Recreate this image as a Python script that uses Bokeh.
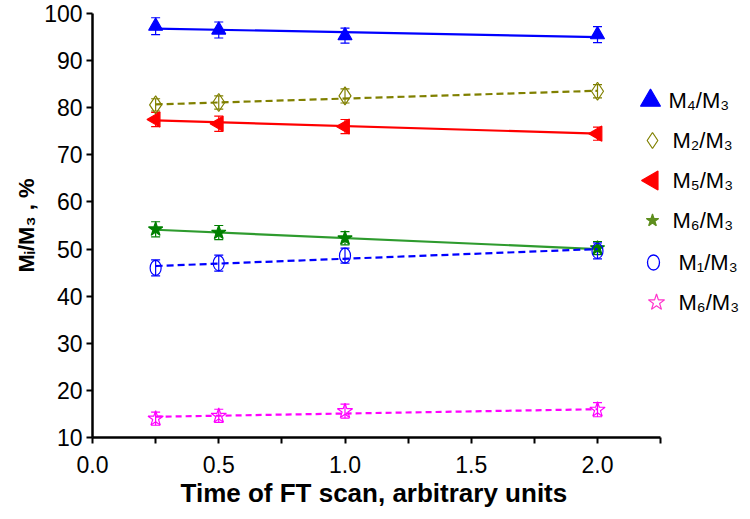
import numpy as np
from bokeh.plotting import figure
from bokeh.models import (ColumnDataSource, Whisker, TeeHead, Title,
                          FixedTicker, NumeralTickFormatter)
from bokeh.core.properties import value
from bokeh.embed import file_html
from bokeh.resources import INLINE

# ---- data ----
x = [0.25, 0.5, 1.0, 2.0]

m4_m3 = [97.3, 96.5, 95.3, 95.5]
m2_m3 = [80.6, 81.1, 82.5, 83.5]
m5_m3 = [77.5, 76.6, 76.0, 74.5]
m6_m3_green = [54.2, 53.5, 52.3, 50.2]
m1_m3 = [46.0, 47.0, 48.6, 49.6]
m6_m3_pink = [14.0, 14.6, 15.6, 15.9]

err_m4 = [1.8, 1.7, 1.6, 1.7]
err_m2 = [1.3, 1.4, 1.5, 1.4]
err_m5 = [1.5, 1.6, 1.5, 1.4]
err_m6g = [1.6, 1.5, 1.4, 1.4]
err_m1 = [1.7, 1.7, 1.6, 1.7]
err_m6p = [1.4, 1.4, 1.5, 1.5]

# trendline end values (at first and last x)
trend_x = [0.25, 2.0]
trend_m4 = [96.8, 95.0]
trend_m2 = [80.7, 83.6]
trend_m5 = [77.3, 74.5]
trend_m6g = [54.1, 50.0]
trend_m1 = [46.4, 50.0]
trend_m6p = [14.4, 16.0]

labels = ["M\u2084/M\u2083", "M\u2082/M\u2083", "M\u2085/M\u2083",
          "M\u2086/M\u2083", "M\u2081/M\u2083", "M\u2086/M\u2083"]

x_ticks = [0.0, 0.5, 1.0, 1.5, 2.0]
x_minor = [0.25, 0.75, 1.25, 1.75, 2.25]
y_ticks = [10, 20, 30, 40, 50, 60, 70, 80, 90, 100]

FONT = "Liberation Sans"

W, H = 749, 518
LEFT, TOP, BOTTOM = 92, 13, 81
PX_PER_X = 252.5
x_end = (W - LEFT) / PX_PER_X

p = figure(width=W, height=H, output_backend="svg", toolbar_location=None,
           x_range=(0, x_end), y_range=(10, 100),
           min_border_left=LEFT, min_border_top=TOP, min_border_bottom=BOTTOM,
           min_border_right=0)
p.outline_line_color = None
p.grid.grid_line_color = None
p.background_fill_color = "white"
p.border_fill_color = "white"

# axes
p.xaxis.bounds = (0, 2.25)
p.xaxis.ticker = FixedTicker(ticks=x_ticks, minor_ticks=x_minor)
p.xaxis.formatter = NumeralTickFormatter(format="0.0")
p.yaxis.ticker = FixedTicker(ticks=y_ticks)
for ax in (p.xaxis[0], p.yaxis[0]):
    ax.axis_line_width = 2.5
    ax.axis_line_color = "black"
    ax.major_tick_line_width = 2
    ax.major_tick_line_color = "black"
    ax.major_tick_out = 6
    ax.major_tick_in = 0
    ax.minor_tick_line_width = 2
    ax.minor_tick_line_color = "black"
    ax.minor_tick_out = 6
    ax.minor_tick_in = 0
    ax.major_label_text_font = FONT
    ax.major_label_text_font_size = "23px"
    ax.major_label_text_color = "black"
    ax.axis_label_text_font = FONT
    ax.axis_label_text_font_style = "bold"
    ax.axis_label_text_font_size = "22px"
    ax.axis_label_text_color = "black"
p.yaxis.minor_tick_line_color = None
p.yaxis.axis_label = "M\u1d62/M\u2083 , %"
p.yaxis.major_label_standoff = 4
p.yaxis.axis_label_standoff = 2
p.xaxis.major_label_standoff = 12

# x-axis title, centred under the drawn axis (0 .. 2.25)
xt = Title(text="Time of FT scan, arbitrary units", align="left", offset=88,
           text_font=FONT, text_font_style="bold", text_font_size="26px",
           text_color="black", standoff=0)
p.add_layout(xt, "below")

# ---- series ----
# values, errors, trend, color, line_color, dash, marker, fill, size, angle
series = [
    (m4_m3, err_m4, trend_m4, "#0000FF", "#0000FF", "solid", "triangle", "#0000FF", 14, 0.0),
    (m2_m3, err_m2, trend_m2, "#808000", "#808000", "7 4", "diamond", None, 18, 0.0),
    (m5_m3, err_m5, trend_m5, "#FF0000", "#FF0000", "solid", "triangle", "#FF0000", 15, np.pi / 2),
    (m6_m3_green, err_m6g, trend_m6g, "#008000", "#2E9B2E", "solid", "star", "#008000", 15, 0.0),
    (m1_m3, err_m1, trend_m1, "#0000FF", "#0000FF", "7 4", "ellipse", None, 12, 0.0),
    (m6_m3_pink, err_m6p, trend_m6p, "#FF00FF", "#FF00FF", "6 4", "star", None, 16, 0.0),
]

for (vals, errs, trend, col, lcol, dash, marker, fill, size, ang) in series:
    p.line(trend_x, trend, line_color=lcol, line_width=2.2, line_dash=dash)
    src = ColumnDataSource(dict(
        x=x, y=vals,
        upper=[v + e for v, e in zip(vals, errs)],
        lower=[v - e for v, e in zip(vals, errs)]))
    wh = Whisker(base="x", upper="upper", lower="lower", source=src,
                 line_color=col, line_width=1.2,
                 upper_head=TeeHead(size=9, line_color=col, line_width=1.2),
                 lower_head=TeeHead(size=9, line_color=col, line_width=1.2))
    p.add_layout(wh)
    if marker == "ellipse":
        p.ellipse("x", "y", source=src, width=11, height=15,
                  width_units="screen", height_units="screen",
                  line_color=col, line_width=1.2, fill_alpha=0.0)
    else:
        p.scatter("x", "y", source=src, marker=marker, size=size, angle=ang,
                  line_color=col, line_width=1.2,
                  fill_color=fill if fill else "white",
                  fill_alpha=1.0 if fill else 0.0)

# ---- legend (drawn by hand so that the left-pointing triangle is kept) ----
# layout: row positions converted from pixel rows of the legend
frame_h = H - TOP - BOTTOM
px_per_y = frame_h / 90.0
def y_at(py):
    return 100 - (py - TOP) / px_per_y
def x_at(px):
    return (px - LEFT) / PX_PER_X

leg_rows_px = [100, 140, 180, 220, 262, 302]
leg_marker_px = [650, 652, 652, 652, 653, 656]
leg_text_px = [668, 672, 672, 672, 678, 678]
leg_styles = [
    ("triangle", 20, "#0000FF", "#0000FF", 0.0),
    ("diamond", 16, "#808000", None, 0.0),
    ("triangle", 19, "#FF0000", "#FF0000", np.pi / 2),
    ("star", 13, "#5E8E1E", "#5E8E1E", 0.0),
    ("ellipse", 0, "#0000FF", None, 0.0),
    ("star", 17, "#FF33CC", None, 0.0),
]
for k, (mk, sz, col, fill, ang) in enumerate(leg_styles):
    lx = [x_at(leg_marker_px[k])]
    ly = [y_at(leg_rows_px[k])]
    if mk == "ellipse":
        p.ellipse(lx, ly, width=12, height=15, width_units="screen",
                  height_units="screen", line_color=col, line_width=1.3,
                  fill_alpha=0.0)
    else:
        p.scatter(lx, ly, marker=mk, size=sz, angle=ang, line_color=col,
                  line_width=1.2, fill_color=fill if fill else "white",
                  fill_alpha=1.0 if fill else 0.0)

leg_src = ColumnDataSource(dict(
    x=[x_at(v) for v in leg_text_px],
    y=[y_at(v) for v in leg_rows_px],
    text=labels))
p.text("x", "y", text="text", source=leg_src, text_font=value(FONT),
       text_font_size="22px", text_color="black", text_baseline="middle",
       text_align="left")

open("out.html", "w").write(file_html(p, INLINE))
